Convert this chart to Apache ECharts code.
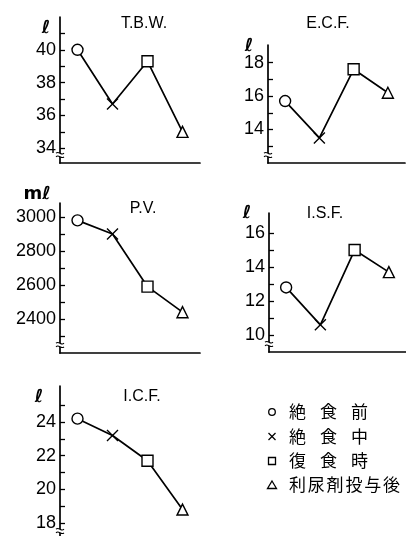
<!DOCTYPE html>
<html><head><meta charset="utf-8">
<script src="https://cdn.jsdelivr.net/npm/echarts@6/dist/echarts.min.js"></script>
<style>html,body{margin:0;padding:0;background:#fff}#c{width:406px;height:536px}</style>
</head><body><div id="c"></div>
<script>
// Phases of the fasting / refeeding study (x categories, also the legend)
const phases = ['絶食前', '絶食中', '復食時', '利尿剤投与後'];

// Fluid compartment volumes for each phase
const tbw = [40.0, 36.7, 39.3, 35.0];     // total body water, ℓ
const ecf = [15.7, 13.5, 17.6, 16.2];     // extracellular fluid, ℓ
const pv  = [2980, 2900, 2590, 2440];     // plasma volume, mℓ
const isf = [12.8, 10.6, 15.0, 13.7];     // interstitial fluid, ℓ
const icf = [24.2, 23.2, 21.7, 18.8];     // intracellular fluid, ℓ

// Tick marks (every unit) and labelled ticks (every second unit)
const tbwTicks = [34, 35, 36, 37, 38, 39, 40, 41];
const tbwLabels = [34, 36, 38, 40];
const ecfTicks = [13, 14, 15, 16, 17, 18];
const ecfLabels = [14, 16, 18];
const pvTicks = [2300, 2400, 2500, 2600, 2700, 2800, 2900, 3000];
const pvLabels = [2400, 2600, 2800, 3000];
const isfTicks = [10, 11, 12, 13, 14, 15, 16];
const isfLabels = [10, 12, 14, 16];
const icfTicks = [18, 19, 20, 21, 22, 23, 24, 25];
const icfLabels = [18, 20, 22, 24];

// One marker shape per phase: ○ × □ △
const CROSS = 'path://M0,0L10,10M10,0L0,10';
const phaseSymbols = ['circle', CROSS, 'rect', 'triangle'];

const panels = [
  { title: 'T.B.W.', unit: 'ℓ', data: tbw, ticks: tbwTicks, labels: tbwLabels, min: 33.1, max: 42,
    grid: { left: 60, top: 17, width: 140, height: 146 }, showX: true, titleAt: [144, 24], unitAt: [46, 28] },
  { title: 'E.C.F.', unit: 'ℓ', data: ecf, ticks: ecfTicks, labels: ecfLabels, min: 12, max: 19.05,
    grid: { left: 268, top: 45, width: 137, height: 118 }, showX: true, titleAt: [328, 24], unitAt: [249, 46] },
  { title: 'P.V.', unit: 'mℓ', data: pv, ticks: pvTicks, labels: pvLabels, min: 2200, max: 3082,
    grid: { left: 60, top: 203, width: 140, height: 150 }, showX: true, titleAt: [143, 209], unitAt: [37, 194] },
  { title: 'I.S.F.', unit: 'ℓ', data: isf, ticks: isfTicks, labels: isfLabels, min: 9, max: 17.18,
    grid: { left: 269, top: 213, width: 137, height: 139 }, showX: true, titleAt: [325, 214], unitAt: [247, 213] },
  { title: 'I.C.F.', unit: 'ℓ', data: icf, ticks: icfTicks, labels: icfLabels, min: 17.23, max: 26.14,
    grid: { left: 60, top: 386, width: 140, height: 150 }, showX: false, titleAt: [142, 397], unitAt: [39, 397] }
];

const LABEL_FONT = 'Liberation Sans, Arial, sans-serif';

const grids = [], xAxes = [], yAxes = [], series = [], graphics = [];

panels.forEach((p, i) => {
  grids.push(Object.assign({ containLabel: false }, p.grid));
  xAxes.push({
    type: 'category', gridIndex: i, data: phases, boundaryGap: true,
    axisLine: { show: p.showX, lineStyle: { color: '#000', width: 1.7 } },
    axisTick: { show: false }, axisLabel: { show: false }, splitLine: { show: false }
  });
  yAxes.push({
    type: 'value', gridIndex: i, min: p.min, max: p.max,
    axisLine: { show: true, lineStyle: { color: '#000', width: 1.7 } },
    axisTick: { show: true, inside: true, length: 5, customValues: p.ticks, lineStyle: { color: '#000', width: 1.3 } },
    axisLabel: { show: true, customValues: p.labels, margin: 4, color: '#000',
      fontFamily: LABEL_FONT, fontSize: 18, formatter: v => String(v) },
    splitLine: { show: false }
  });
  series.push({
    type: 'line', xAxisIndex: i, yAxisIndex: i,
    data: p.data.map((v, k) => ({ value: v, symbol: phaseSymbols[k] })),
    symbolSize: 11,
    lineStyle: { color: '#000', width: 1.7 },
    itemStyle: { color: '#fff', borderColor: '#000', borderWidth: 1.4 },
    emphasis: { disabled: true },
    animation: false, z: 3
  });
  // panel title and unit
  graphics.push({ type: 'text', x: p.titleAt[0], y: p.titleAt[1],
    style: { text: p.title, fill: '#000', font: '16px ' + LABEL_FONT, textAlign: 'center', textVerticalAlign: 'middle' } });
  graphics.push({ type: 'text', x: p.unitAt[0], y: p.unitAt[1],
    style: { text: p.unit, fill: '#000', font: 'bold 18px "DejaVu Sans", sans-serif', textAlign: 'center', textVerticalAlign: 'middle' } });
  // broken-axis mark near the foot of the value axis
  const bx = p.grid.left;
  const by = p.grid.top + p.grid.height - (p.showX ? 8 : 5);
  graphics.push({ type: 'rect', shape: { x: bx - 4, y: by - 2, width: 8, height: 4 },
    style: { fill: '#fff' }, z: 10 });
  [-1.8, 1.8].forEach(dy => {
    graphics.push({ type: 'bezierCurve',
      shape: { x1: bx - 4, y1: by + dy, x2: bx + 4, y2: by + dy,
               cpx1: bx - 1, cpy1: by + dy - 3, cpx2: bx + 1, cpy2: by + dy + 3 },
      style: { fill: 'none', stroke: '#000', lineWidth: 1.1 }, z: 11 });
  });
});

// Legend: marker + phase name, one row per phase
const legendRows = [412, 436.5, 461, 485];
const legendX = 272, textX = 289;
legendRows.forEach((y, k) => {
  const s = { fill: '#fff', stroke: '#000', lineWidth: 1.3 };
  if (k === 0) graphics.push({ type: 'circle', shape: { cx: legendX, cy: y, r: 3.3 }, style: s });
  if (k === 1) {
    graphics.push({ type: 'line', shape: { x1: legendX - 3.5, y1: y - 3.5, x2: legendX + 3.5, y2: y + 3.5 }, style: { stroke: '#000', lineWidth: 1.3 } });
    graphics.push({ type: 'line', shape: { x1: legendX + 3.5, y1: y - 3.5, x2: legendX - 3.5, y2: y + 3.5 }, style: { stroke: '#000', lineWidth: 1.3 } });
  }
  if (k === 2) graphics.push({ type: 'rect', shape: { x: legendX - 3.5, y: y - 3.5, width: 7, height: 7 }, style: s });
  if (k === 3) graphics.push({ type: 'polygon', shape: { points: [[legendX, y - 4], [legendX + 4.5, y + 3.5], [legendX - 4.5, y + 3.5]] }, style: s });
  const chars = Array.from(phases[k]);
  const pitch = chars.length > 3 ? 18.8 : 31;
  chars.forEach((ch, j) => {
    graphics.push({ type: 'text', x: textX + j * pitch, y: y,
      style: { text: ch, fill: '#000', font: '17px "Noto Sans CJK JP", sans-serif', textAlign: 'left', textVerticalAlign: 'middle' } });
  });
});

const chart = echarts.init(document.getElementById('c'), null, { renderer: 'canvas' });
chart.setOption({
  backgroundColor: '#fff',
  animation: false,
  grid: grids, xAxis: xAxes, yAxis: yAxes, series: series,
  graphic: graphics
});
</script></body></html>
